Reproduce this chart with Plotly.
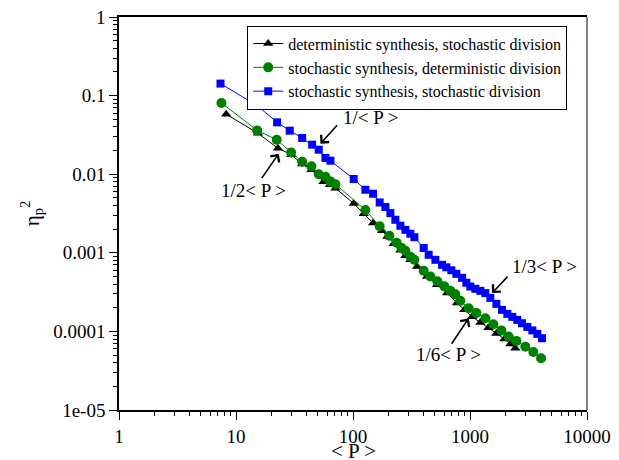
import math
import plotly.graph_objects as go

# deterministic synthesis, stochastic division (black triangles)
p_det_syn = [8.24, 15.4, 22.83, 29.59, 36.75, 44.12, 55.86, 63.5, 70.72, 101.4, 123.4, 148.5,
             177.3, 196.7, 222.6, 254.1, 280.4, 309.3, 352.8, 429.6, 523.0, 636.8, 775.2,
             894.8, 1041, 1226, 1435, 1680, 1966, 2212, 2440]
eta_det_syn = [0.0581, 0.0331, 0.02145, 0.01772, 0.01349, 0.01141, 0.00803, 0.00735, 0.00663,
               0.00425, 0.00314, 0.00239, 0.00191, 0.001613, 0.001302, 0.001076, 0.000916,
               0.000814, 0.000669, 0.000499, 0.000391, 0.000307, 0.000229, 0.000188,
               0.000154, 0.00013, 0.000111, 0.0000943, 0.0000803, 0.0000693, 0.0000611]

# stochastic synthesis, deterministic division (green circles)
p_det_div = [7.51, 15.16, 22.29, 29.59, 36.75, 44.12, 50.93, 58.11, 64.12, 70.72, 127.6, 169.1,
             204.6, 236.2, 259.2, 280.4, 309.3, 334.6, 401.8, 458.4, 526.1, 603.8, 679.4,
             749.7, 827.4, 973.8, 1133, 1353, 1583, 1853, 2139, 2489, 2971, 3477, 4050]
eta_det_div = [0.0807, 0.0361, 0.0275, 0.01895, 0.01443, 0.01258, 0.01, 0.00929, 0.0081,
               0.00746, 0.0035, 0.00218, 0.001647, 0.001341, 0.001158, 0.00106, 0.000889,
               0.000814, 0.00059, 0.000499, 0.000433, 0.000374, 0.000328, 0.000296, 0.000245,
               0.000197, 0.000172, 0.000147, 0.000123, 0.000103, 0.0000859, 0.0000757,
               0.000064, 0.0000548, 0.0000456]

# stochastic synthesis, stochastic division (blue squares)
p_stoch = [7.37, 15.16, 22.47, 28.79, 36.75, 44.73, 50.93, 58.11, 64.12, 101.4, 127.6, 148.5,
           169.1, 189.2, 208.7, 230.2, 254.1, 280.4, 309.3, 334.6, 401.8, 443.3, 505.8, 577.1,
           628.1, 693.0, 764.6, 855.3, 930.8, 1007, 1111, 1226, 1353, 1492, 1680, 1878, 2085,
           2300, 2538, 2784, 3090, 3410, 3762, 4127]
eta_stoch = [0.1422, 0.0746, 0.0457, 0.0358, 0.0289, 0.02376, 0.02051, 0.01609, 0.01486,
             0.00869, 0.00634, 0.00564, 0.00437, 0.00382, 0.0032, 0.00263, 0.00221, 0.00196,
             0.00175, 0.00158, 0.00115, 0.000943, 0.000814, 0.000703, 0.000654, 0.000599,
             0.00054, 0.00048, 0.000415, 0.000372, 0.000348, 0.000328, 0.000307, 0.000267,
             0.000224, 0.000188, 0.000167, 0.000153, 0.00014, 0.000127, 0.000114, 0.000103,
             0.0000929, 0.0000819]

series_names = ["deterministic synthesis, stochastic division",
                "stochastic synthesis, deterministic division",
                "stochastic synthesis, stochastic division"]

x_tickvals = [1, 10, 100, 1000, 10000]
x_ticktext = ["1", "10", "100", "1000", "10000"]
y_tickvals = [1e-5, 1e-4, 1e-3, 1e-2, 1e-1, 1]
y_ticktext = ["1e-05", "0.0001", "0.001", "0.01", "0.1", "1"]
x_title = "&lt; P &gt;"
y_title = "η<sub>p</sub><sup>2</sup>"

# annotations: label, text position (P, eta), arrow head (P, eta), arrow offset px
ann_labels = ["1/&lt; P &gt;", "1/2&lt; P &gt;", "1/3&lt; P &gt;", "1/6&lt; P &gt;"]
ann_text_pos = [(143.6, 0.0524), (14.09, 0.00616), (4361, 0.000663), (653, 5.02e-5)]
ann_head_pos = [(52.7, 0.02446), (23.19, 0.01825), (1543, 0.000307), (973.8, 0.000147)]
ann_offsets = [(18, -20), (-18, 26), (17, -18), (-18, 27)]

FONT = "Liberation Serif"

fig = go.Figure()
fig.add_trace(go.Scatter(x=p_det_syn, y=eta_det_syn, mode="lines+markers", name=series_names[0],
                         line=dict(color="black", width=1),
                         marker=dict(symbol="triangle-up", size=9, color="black")))
fig.add_trace(go.Scatter(x=p_det_div, y=eta_det_div, mode="lines+markers", name=series_names[1],
                         line=dict(color="#008000", width=1),
                         marker=dict(symbol="circle", size=10, color="#008000")))
fig.add_trace(go.Scatter(x=p_stoch, y=eta_stoch, mode="lines+markers", name=series_names[2],
                         line=dict(color="#0000ff", width=1),
                         marker=dict(symbol="square", size=8, color="#0000ff")))

minor_vals = [k * 10 ** e for e in range(-6, 5) for k in range(2, 10)]

axis_common = dict(type="log", showgrid=False, zeroline=False, showline=True, automargin=False,
                   linecolor="black", linewidth=1.5, ticks="outside", ticklen=8,
                   tickwidth=1.2, tickcolor="black", tickmode="array",
                   ticklabeloverflow="allow",
                   tickfont=dict(family=FONT, size=19, color="black"),
                   minor=dict(ticks="outside", ticklen=4, tickwidth=1, tickcolor="black",
                              tickmode="array", tickvals=minor_vals))

fig.update_xaxes(range=[0, 4], tickvals=x_tickvals, ticktext=x_ticktext, mirror=True,
                 **axis_common)
fig.update_yaxes(range=[-5, 0], tickvals=y_tickvals, ticktext=y_ticktext, mirror=False,
                 title=dict(text=y_title, font=dict(family=FONT, size=21, color="black"),
                            standoff=8),
                 **axis_common)

annotations = [dict(x=0.5, y=-0.104, xref="paper", yref="paper", text=x_title,
                    showarrow=False, xanchor="center", yanchor="middle",
                    font=dict(family=FONT, size=21, color="black"))]
for lab, (tx, ty) in zip(ann_labels, ann_text_pos):
    annotations.append(dict(x=math.log10(tx), y=math.log10(ty), xref="x", yref="y", text=lab,
                            showarrow=False, font=dict(family=FONT, size=19, color="black")))
for (hx, hy), (ox, oy) in zip(ann_head_pos, ann_offsets):
    annotations.append(dict(x=math.log10(hx), y=math.log10(hy), xref="x", yref="y", text="",
                            showarrow=True, arrowhead=4, arrowsize=1.3, arrowwidth=1.6,
                            arrowcolor="black", ax=ox, ay=oy, standoff=0))

# the page body adds an 8px margin, so the figure is sized to fit the window
fig.update_layout(
    width=611, height=452,
    margin=dict(l=111, r=32, t=9, b=50),
    paper_bgcolor="white", plot_bgcolor="white",
    font=dict(family=FONT, color="black"),
    showlegend=True,
    legend=dict(x=0.274, y=0.978, xanchor="left", yanchor="top",
                bgcolor="white", bordercolor="black", borderwidth=1,
                font=dict(family=FONT, size=16, color="black"),
                itemwidth=30, tracegroupgap=0),
    annotations=annotations,
    shapes=[dict(type="line", xref="paper", yref="paper", x0=1, x1=1, y0=0, y1=1,
                 line=dict(color="#808080", width=2))],
)

fig.write_html("out.html")
